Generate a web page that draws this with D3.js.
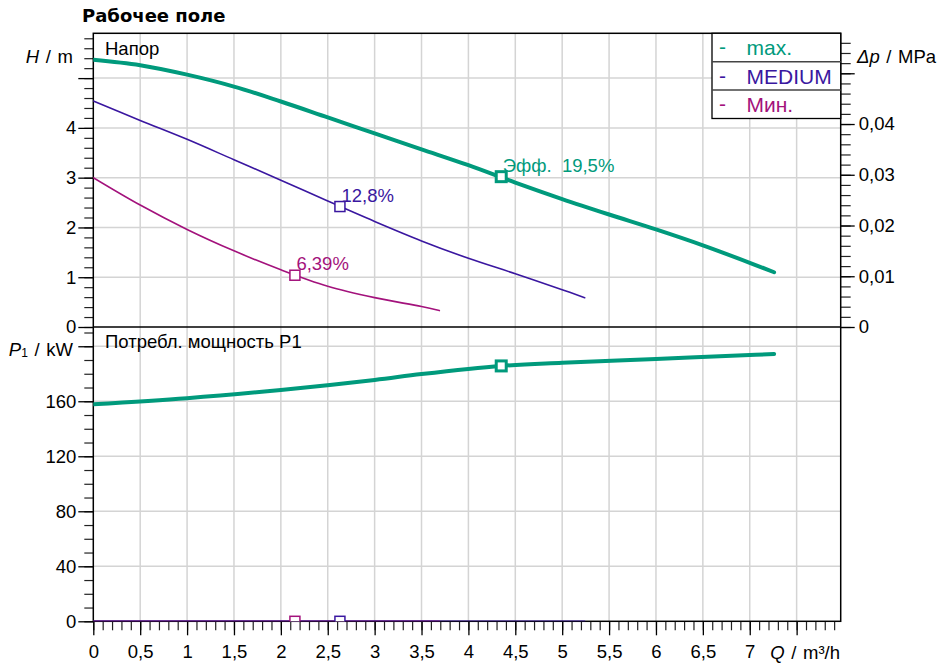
<!DOCTYPE html>
<html lang="ru">
<head>
<meta charset="UTF-8">
<title>Рабочее поле</title>
<script src="https://d3js.org/d3.v7.min.js"></script>
<style>
  body { margin: 0; background: #fff; }
  svg { display: block; font-family: "Liberation Sans", Arial, sans-serif; }
  .tick text { font-size: 18.5px; fill: #000; }
  .grid line { stroke: #d4d4d4; stroke-width: 1.5; }
</style>
</head>
<body>
<script>
// ---- data ----
const seriesNames = ["max.", "MEDIUM", "Мин."];
const seriesColors = ["#009a7c", "#3a17a0", "#a3127c"];

// head curves, H in m
const qMax = [0, 0.5, 1, 1.5, 2, 2.5, 3, 3.5, 4, 4.5, 5, 5.5, 6, 6.5, 7, 7.26];
const hMax = [5.37, 5.26, 5.07, 4.83, 4.53, 4.21, 3.89, 3.57, 3.25, 2.90, 2.57, 2.26, 1.96, 1.64, 1.29, 1.10];
const qMed = [0, 0.5, 1, 1.5, 2, 2.5, 3, 3.5, 4, 4.5, 5, 5.24];
const hMed = [4.54, 4.15, 3.77, 3.36, 2.95, 2.53, 2.12, 1.73, 1.38, 1.07, 0.75, 0.59];
const qMin = [0, 0.5, 1, 1.5, 2, 2.5, 3, 3.5, 3.69];
const hMin = [3.00, 2.45, 1.96, 1.53, 1.15, 0.82, 0.59, 0.41, 0.33];

// power P1 in kW
const qPMax = [0, 1, 2, 3, 3.5, 4.35, 5, 6, 7, 7.26];
const pMax = [157.8, 162.2, 168.2, 175.5, 179.8, 185.7, 188, 190.8, 193.6, 194.4];
const qPMed = [0, 5.24];
const pMed = [0, 0];
const qPMin = [0, 3.69];
const pMin = [0, 0];

// operating points (Q, H, P1) and efficiency labels
const opQ = [4.35, 2.63, 2.15];
const opH = [3.02, 2.42, 1.04];
const opP = [185.7, 0, 0];
const opLabels = ["Эфф.  19,5%", "12,8%", "6,39%"];

const W = 937, H = 665;
const pL = 93.3, pR = 840.7, pT = 33.3, pM = 327, pB = 621.3;

const loc = d3.formatLocale({ decimal: ",", thousands: " ", grouping: [3], currency: ["", ""] });
const fmt = v => loc.format("~g")(+v.toFixed(4));

const x = d3.scaleLinear().domain([0, 7.97]).range([pL, pR]);
const yH = d3.scaleLinear().domain([0, 5.9]).range([pM, pT]);
const yDp = d3.scaleLinear().domain([0, 5.9 * 0.00981]).range([pM, pT]);
const yP = d3.scaleLinear().domain([0, 214]).range([pB, pM]);

const svg = d3.select("body").append("svg").attr("width", W).attr("height", H);

svg.append("defs").selectAll("clipPath")
  .data([["clipTop", pT, pM], ["clipBot", pM, pB]])
  .join("clipPath").attr("id", d => d[0])
  .append("rect").attr("x", pL).attr("y", d => d[1])
  .attr("width", pR - pL).attr("height", d => d[2] - d[1]);

const steps = (a, b, s) => d3.range(Math.round(a / s), Math.round(b / s) + 1).map(i => +(i * s).toFixed(6));

// grid
const grid = svg.append("g").attr("class", "grid");
grid.selectAll(".gx").data(steps(0.5, 7.5, 0.5)).join("line").attr("class", "gx")
  .attr("x1", d => x(d)).attr("x2", d => x(d)).attr("y1", pT).attr("y2", pB);
grid.selectAll(".gh").data(steps(1, 5, 1)).join("line").attr("class", "gh")
  .attr("x1", pL).attr("x2", pR).attr("y1", d => yH(d)).attr("y2", d => yH(d));
grid.selectAll(".gp").data(steps(40, 200, 40)).join("line").attr("class", "gp")
  .attr("x1", pL).attr("x2", pR).attr("y1", d => yP(d)).attr("y2", d => yP(d));

// axes helper: minor ticks without labels, then major ticks with labels
function drawAxis(axisFn, scale, minor, major, labelled, transform, longSize, shortSize, pad) {
  svg.append("g").attr("transform", transform)
    .call(axisFn(scale).tickValues(minor).tickSize(shortSize).tickFormat(""))
    .call(g => g.select(".domain").remove())
    .call(g => g.selectAll(".tick line").attr("stroke", "#222").attr("stroke-width", 1.2));
  svg.append("g").attr("transform", transform)
    .call(axisFn(scale).tickValues(major).tickSize(longSize).tickPadding(pad)
      .tickFormat(d => labelled.includes(d) ? fmt(d) : ""))
    .call(g => g.select(".domain").remove())
    .call(g => g.selectAll(".tick line").attr("stroke", "#000").attr("stroke-width", 1.3));
}

drawAxis(d3.axisLeft, yH, steps(0, 5.8, 0.2), steps(0, 5, 1), [0, 1, 2, 3, 4], `translate(${pL},0)`, 15, 9, 2);
drawAxis(d3.axisLeft, yP, steps(0, 210, 10), steps(0, 200, 40), [0, 40, 80, 120, 160], `translate(${pL},0)`, 15, 9, 2);
drawAxis(d3.axisRight, yDp, steps(0, 0.056, 0.002), steps(0, 0.05, 0.01), [0, 0.01, 0.02, 0.03, 0.04], `translate(${pR},0)`, 14, 10, 4);
drawAxis(d3.axisBottom, x, steps(0, 7.9, 0.1), steps(0, 7.5, 0.5), steps(0, 7, 0.5), `translate(0,${pB})`, 14, 9, 10);

svg.selectAll(".tick text").attr("fill", "#000");

// frame
svg.append("rect").attr("x", pL).attr("y", pT).attr("width", pR - pL).attr("height", pB - pT)
  .attr("fill", "none").attr("stroke", "#000").attr("stroke-width", 1.5);
svg.append("line").attr("x1", pL).attr("x2", pR).attr("y1", pM).attr("y2", pM)
  .attr("stroke", "#000").attr("stroke-width", 1.5);

// curves
const zip = (qs, vs) => qs.map((q, i) => [q, vs[i]]);
const lineH = d3.line().x(d => x(d[0])).y(d => yH(d[1])).curve(d3.curveCatmullRom.alpha(0.5));
const lineP = d3.line().x(d => x(d[0])).y(d => yP(d[1])).curve(d3.curveCatmullRom.alpha(0.5));
const headData = [zip(qMax, hMax), zip(qMed, hMed), zip(qMin, hMin)];
const powerData = [zip(qPMax, pMax), zip(qPMed, pMed), zip(qPMin, pMin)];
const widths = [4, 1.6, 1.6];

const gTop = svg.append("g").attr("clip-path", "url(#clipTop)");
const gBot = svg.append("g").attr("clip-path", "url(#clipBot)");

[2, 1, 0].forEach(i => {
  gTop.append("path").attr("d", lineH(headData[i])).attr("fill", "none")
    .attr("stroke", seriesColors[i]).attr("stroke-width", widths[i]).attr("stroke-linecap", "round");
  gBot.append("path").attr("d", lineP(powerData[i])).attr("fill", "none")
    .attr("stroke", seriesColors[i]).attr("stroke-width", widths[i]).attr("stroke-linecap", "round");
});

// operating point markers
const mSize = 10;
[2, 1, 0].forEach(i => {
  gTop.append("rect").attr("x", x(opQ[i]) - mSize / 2).attr("y", yH(opH[i]) - mSize / 2)
    .attr("width", mSize).attr("height", mSize).attr("fill", "#fff")
    .attr("stroke", seriesColors[i]).attr("stroke-width", i === 0 ? 3 : 1.5);
  gBot.append("rect").attr("x", x(opQ[i]) - mSize / 2).attr("y", yP(opP[i]) - mSize / 2)
    .attr("width", mSize).attr("height", mSize).attr("fill", "#fff")
    .attr("stroke", seriesColors[i]).attr("stroke-width", i === 0 ? 3 : 1.5);
  svg.append("text").attr("x", x(opQ[i]) + 1.5).attr("y", yH(opH[i]) - 5)
    .attr("font-size", 18.5).attr("fill", seriesColors[i])
    .style("white-space", "pre").text(opLabels[i]);
});

// panel titles
svg.append("text").attr("x", 105).attr("y", 55).attr("font-size", 18.5).text("Напор");
svg.append("text").attr("x", 105).attr("y", 348).attr("font-size", 18.5).text("Потребл. мощность P1");

// chart title
svg.append("text").attr("x", 82).attr("y", 22).attr("font-size", 18)
  .attr("font-family", "DejaVu Sans, Verdana, sans-serif").attr("font-weight", "bold").text("Рабочее поле");

// axis titles
function axisTitle(xp, yp, anchor, sym, sub, unit) {
  const t = svg.append("text").attr("x", xp).attr("y", yp).attr("font-size", 18.5)
    .attr("text-anchor", anchor).style("white-space", "pre");
  t.append("tspan").attr("font-style", "italic").text(sym);
  if (sub) t.append("tspan").attr("font-size", 12).attr("dy", 1).text(sub);
  t.append("tspan").attr("dy", sub ? -1 : 0).attr("dx", 1.5).text(" /");
  t.append("tspan").attr("dx", 1.5).text(" " + unit);
}
axisTitle(73, 63, "end", "H", null, "m");
axisTitle(857, 63, "start", "Δp", null, "MPa");
axisTitle(73, 356, "end", "P", "1", "kW");
axisTitle(840, 659, "end", "Q", null, "m³/h");

// legend
const lg = svg.append("g");
const rowH = 28.4, lx = 712, lw = pR - lx;
lg.append("rect").attr("x", lx).attr("y", pT).attr("width", lw).attr("height", rowH * 3)
  .attr("fill", "#fff").attr("stroke", "#000").attr("stroke-width", 1.3);
seriesNames.forEach((n, i) => {
  const yy = pT + rowH * i;
  if (i > 0) lg.append("line").attr("x1", lx).attr("x2", pR).attr("y1", yy).attr("y2", yy)
    .attr("stroke", "#444").attr("stroke-width", 1.5);
  lg.append("text").attr("x", 719).attr("y", yy + 21).attr("font-size", 21)
    .attr("fill", seriesColors[i]).text("-");
  lg.append("text").attr("x", 746.5).attr("y", yy + 22).attr("font-size", 21)
    .attr("fill", seriesColors[i]).text(n);
});
</script>
</body>
</html>
